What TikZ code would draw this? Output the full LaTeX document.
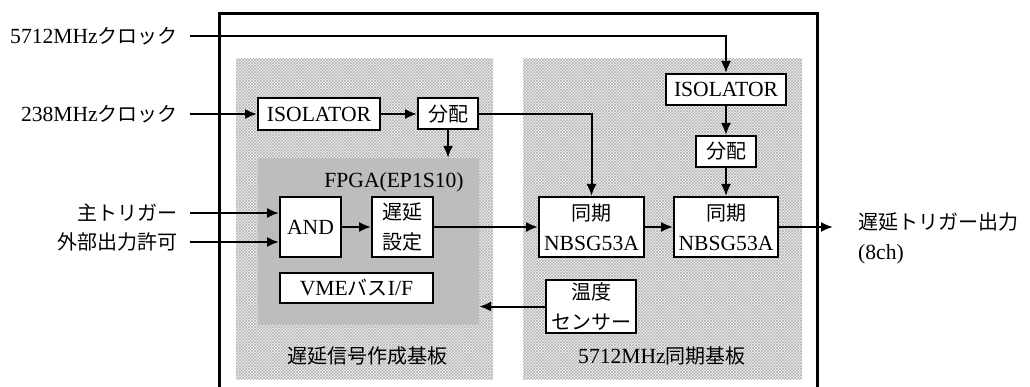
\documentclass[tikz,border=0pt]{standalone}
\usepackage{fontspec}
\setmainfont{Liberation Serif}[Scale=1.08]
\newfontfamily\jp{Noto Sans CJK JP}
\usetikzlibrary{arrows.meta,patterns}

\begin{document}
\begin{tikzpicture}[x=1pt,y=-1pt,>={Latex[length=12pt,width=10pt]},
    font=\fontsize{20}{30}\selectfont,
    blk/.style={draw, line width=2pt, fill=white, inner sep=0pt, align=center},
    wire/.style={line width=2pt},
    lbl/.style={anchor=east, inner sep=0pt, inner xsep=12pt}]
        \useasboundingbox (0,0) rectangle (1030,387);

        % outer frame (open at the bottom)
        \draw[line width=3pt] (219,387) -- (219,14) -- (817,14) -- (817,387);

        % the two boards
        \fill[white!95!black] (236,59) rectangle (493,379);
        \fill[pattern=crosshatch, pattern color=white!70!black] (236,59) rectangle (493,379);
        \fill[white!95!black] (523,59) rectangle (802,379);
        \fill[pattern=crosshatch, pattern color=white!70!black] (523,59) rectangle (802,379);
        \node (brdA) at (367,356) {{\jp 遅延信号作成基板}};
        \node (brdB) at (662,356) {5712MHz{\jp 同期基板}};

        % FPGA
        \node[fill=white!74!black, minimum width=221pt, minimum height=167pt, inner sep=0pt] (fpga) at (368.5,241.5) {};
        \node (fpgalbl) at (394,182) {FPGA(EP1S10)};

        \node[blk, minimum width=122pt, minimum height=32pt] (iso1) at (319,114) {ISOLATOR};
        \node[blk, minimum width=60pt, minimum height=31pt] (div1) at (448,114) {\jp 分配};
        \node[blk, minimum width=61pt, minimum height=60pt] (and) at (310.5,227) {AND};
        \node[blk, minimum width=61pt, minimum height=60pt] (dly) at (402.5,227) {\jp 遅延\\\jp 設定};
        \node[blk, minimum width=153pt, minimum height=30pt] (vme) at (356.5,288) {VME{\jp バス}I/F};

        \node[blk, minimum width=120pt, minimum height=31pt] (iso2) at (726,89.5) {ISOLATOR};
        \node[blk, minimum width=60pt, minimum height=31pt] (div2) at (726,151.5) {\jp 分配};
        \node[blk, minimum width=105pt, minimum height=60pt] (syn1) at (591.5,227) {{\jp 同期}\\NBSG53A};
        \node[blk, minimum width=104pt, minimum height=60pt] (syn2) at (726,227) {{\jp 同期}\\NBSG53A};
        \node[blk, minimum width=90pt, minimum height=53pt] (temp) at (591,306.5) {\jp 温度\\\jp センサー};

        % inputs
        \node[lbl] (clkA) at (190,36) {5712MHz{\jp クロック}};
        \node[lbl] (clkB) at (190,114) {238MHz{\jp クロック}};
        \node[lbl] (trg) at (190,213) {\jp 主トリガー};
        \node[lbl] (ena) at (190,242) {\jp 外部出力許可};

        % output
        \coordinate (out) at (833,227);
        \node[anchor=north west, align=left, inner sep=0pt] (outlbl) at (858,213) {{\jp 遅延トリガー出力}\\(8ch)};

        \draw[wire,->] (clkA.east) -- (clkA.east -| iso2.north) -- (iso2.north);
        \draw[wire,->] (clkB.east) -- (iso1.west);
        \draw[wire,->] (iso1.east) -- (div1.west);
        \draw[wire,->] (div1.east) -- (div1.east -| syn1.north) -- (syn1.north);
        \draw[wire,->] (div1.south) -- (div1.south |- fpga.north);
        \draw[wire,->] (trg.east) -- (trg.east -| and.west);
        \draw[wire,->] (ena.east) -- (ena.east -| and.west);
        \draw[wire,->] (and.east) -- (dly.west);
        \draw[wire,->] (dly.east) -- (syn1.west);
        \draw[wire,->] (syn1.east) -- (syn2.west);
        \draw[wire,->] (iso2.south) -- (div2.north);
        \draw[wire,->] (div2.south) -- (syn2.north);
        \draw[wire,->] (syn2.east) -- (out);
        \draw[wire,->] (temp.west) -- (temp.west -| fpga.east);
    \end{tikzpicture}
\end{document}
